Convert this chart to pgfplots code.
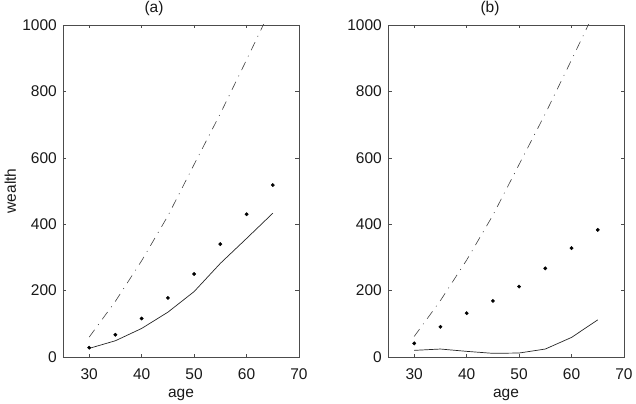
\documentclass[border=0pt]{standalone}
\usepackage{fontspec}
\setmainfont{Liberation Sans}
\usepackage{pgfplots}
\usepackage{pgfplotstable}
\pgfplotsset{compat=1.18}

\pgfplotstableread{
age dots solid dashdot
30 28 26 60
35 67 49 168
40 116 86 290
45 178 135 425
50 250 197 580
55 340 282 733
60 430 357 895
65 518 433 1060
}\dataA

\pgfplotstableread{
age dots solid dashdot
30 41 20 62
35 91 24 170
40 132 17 292
45 169 11 427
50 212 12 580
55 267 24 733
60 328 59 895
65 383 112 1060
}\dataB

\newcommand{\lblfont}{\fontsize{15.5bp}{18bp}\selectfont}

\pgfplotsset{
  every axis title shift=0pt,
  panel/.style={
    scale only axis, width=236bp, height=332bp,
    xmin=25, xmax=70, ymin=0, ymax=1000,
    xtick={30,40,...,70}, ytick={0,200,...,1000},
    tick align=inside, major tick length=3.5bp,
    axis line style={line width=0.6bp, black!70},
    tick style={line width=0.5bp, black!70},
    /pgf/number format/assume math mode=true,
    /pgf/number format/1000 sep={},
    every tick label/.append style={font=\lblfont, text=black!90},
    xticklabel style={inner sep=0pt, anchor=north, yshift=-11bp},
    yticklabel style={inner sep=0pt, anchor=east, xshift=-6bp},
    xlabel={age},
    xlabel style={at={([yshift=-40bp]axis description cs:0.5,0)}, anchor=base, inner sep=0pt, font=\lblfont, text=black!90},
    dd/.style={line width=0.6bp, black!75, dash pattern=on 9bp off 6bp on 1bp off 6bp},
    sl/.style={line width=0.7bp, black!85},
    dt/.style={only marks, mark=*, mark size=1.7bp, black},
  }
}

\begin{document}
\begin{tikzpicture}
\begin{axis}[panel, at={(0,0)}, anchor=south west, title={(a)},
  title style={at={(axis description cs:0.5,1)}, anchor=base, inner sep=0pt, xshift=-27bp, yshift=12bp, font=\lblfont, text=black!90},
  ylabel={wealth},
  ylabel style={at={([xshift=-47bp]axis description cs:0,0.5)}, rotate=0, anchor=base, inner sep=0pt, font=\lblfont, text=black!90}]
\addplot[dd] table[x=age, y=dashdot] {\dataA};
\addplot[dt] table[x=age, y=dots] {\dataA};
\addplot[sl] table[x=age, y=solid] {\dataA};
\end{axis}
\begin{axis}[panel, at={(325bp,0)}, anchor=south west, title={(b)},
  title style={at={(axis description cs:0.5,1)}, anchor=base, inner sep=0pt, xshift=-16bp, yshift=12bp, font=\lblfont, text=black!90}]
\addplot[dd] table[x=age, y=dashdot] {\dataB};
\addplot[dt] table[x=age, y=dots] {\dataB};
\addplot[sl] table[x=age, y=solid] {\dataB};
\end{axis}
\pgfresetboundingbox
\useasboundingbox (-63bp,-47bp) rectangle (573bp,357bp);
\end{tikzpicture}
\end{document}
